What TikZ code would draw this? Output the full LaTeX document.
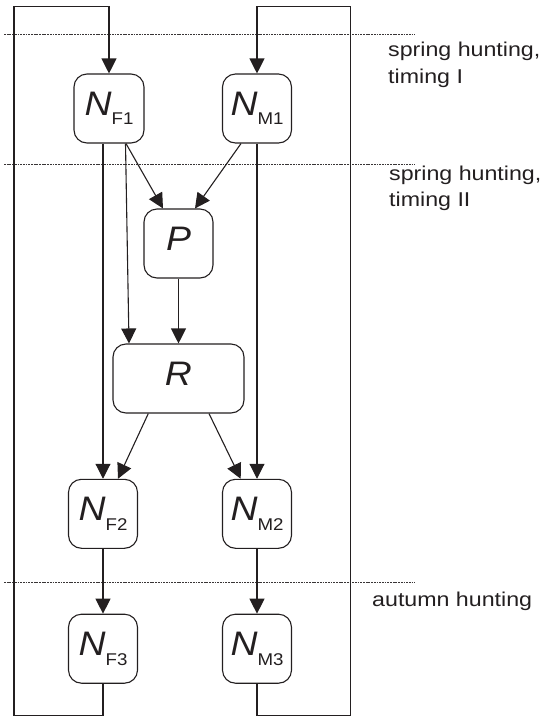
\documentclass[tikz,border=0pt]{standalone}
\usepackage{fontspec}
\setmainfont{Liberation Sans}
\newfontfamily\labfont[FakeStretch=1.16]{Liberation Sans}
\newfontfamily\varfont[FakeStretch=1.1]{Liberation Sans}
\usetikzlibrary{arrows.meta}
\definecolor{ink}{HTML}{231F20}

\tikzset{
  var/.style={draw=ink, line width=1.1pt, rounded corners=13pt,
    minimum width=69pt, minimum height=69pt, inner sep=0pt, text=ink},
  arr/.style={draw=ink, line width=1.1pt, -{Triangle[length=15pt,width=15pt]}},
  guide/.style={draw=ink!90, line width=0.8pt, dash pattern=on 1.8pt off 0.9pt},
  lab/.style={font=\labfont\fontsize{20}{24}\selectfont, text=ink,
    inner sep=0pt, anchor=base west},
}
% population symbol: italic letter with an upright lowered index
\newcommand{\pop}[2]{{\varfont\fontsize{34}{36}\selectfont\itshape #1}%
  {\varfont\fontsize{17}{19}\selectfont\raisebox{-9.4pt}{#2}}}

\begin{document}
\begin{tikzpicture}[x=1pt,y=-1pt]
\useasboundingbox (0,0) rectangle (544,716);

% season boundaries
\draw[guide] (4,34.3) -- (415,34.3);
\draw[guide] (4,164.3) -- (415,164.3);
\draw[guide] (4,582.3) -- (415,582.3);

% season labels
\node[lab] (s1a) at (388,56.7) {spring hunting,};
\node[lab] (s1b) at (388,83.3) {timing I};
\node[lab] (s2a) at (389,180.7) {spring hunting,};
\node[lab] (s2b) at (389,206.7) {timing II};
\node[lab] (s3) at (372,606.7) {autumn hunting};

% state variables
\node[var, minimum width=70pt] (NF1) at (109,108.5) {\pop{N}{F1}};
\node[var] (NM1) at (257,108.5) {\pop{N}{M1}};
\node[var] (P)   at (178.5,243.5) {\pop{P}{}};
\node[var, minimum width=131pt] (R) at (178.5,378.5) {\pop{R}{}};
\node[var] (NF2) at (103,513.8) {\pop{N}{F2}};
\node[var] (NM2) at (257,513.8) {\pop{N}{M2}};
\node[var] (NF3) at (103,648.7) {\pop{N}{F3}};
\node[var] (NM3) at (257,648.7) {\pop{N}{M3}};

% corners of the yearly feedback loops
\coordinate (lb) at (14,715.2);
\coordinate (lt) at (14,6.7);
\coordinate (rb) at (350.7,715.2);
\coordinate (rt) at (350.7,6.7);

% next year's populations
\draw[arr] (NF3.south) |- (lb) -- (lt) -| (NF1.north);
\draw[arr] (NM3.south) |- (rb) -- (rt) -| (NM1.north);

% within-year transitions
\draw[arr] (NF2.north |- NF1.south) -- (NF2.north);
\draw[arr] ([xshift=16.5pt]NF1.south) -- ([xshift=-49.5pt]R.north);
\draw[arr] ([xshift=17pt]NF1.south) -- ([xshift=-15.5pt]P.north);
\draw[arr] ([xshift=-16pt]NM1.south) -- ([xshift=16.5pt]P.north);
\draw[arr] (NM1.south) -- (NM2.north);
\draw[arr] (P.south) -- (R.north);
\draw[arr] ([xshift=-30.2pt]R.south) -- ([xshift=15pt]NF2.north);
\draw[arr] ([xshift=30.5pt]R.south) -- ([xshift=-16.3pt]NM2.north);
\draw[arr] (NF2.south) -- (NF3.north);
\draw[arr] (NM2.south) -- (NM3.north);
\end{tikzpicture}
\end{document}
